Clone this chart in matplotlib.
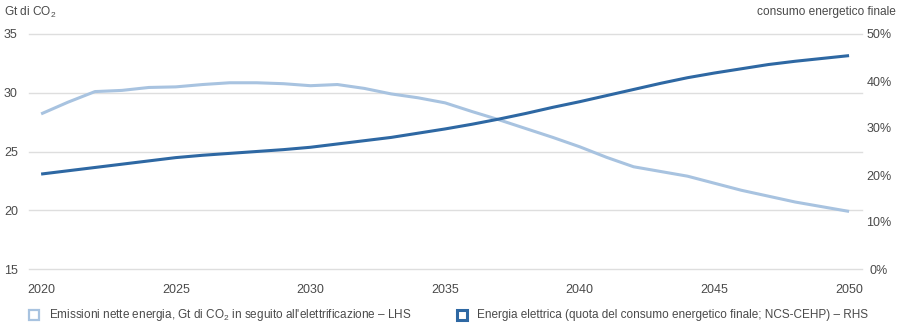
import matplotlib
matplotlib.use("Agg")
import matplotlib.pyplot as plt
from matplotlib.patches import Rectangle

plt.rcParams['font.family'] = ['Liberation Sans', 'DejaVu Sans']
plt.rcParams['mathtext.fontset'] = 'custom'
plt.rcParams['mathtext.rm'] = 'Liberation Sans'
plt.rcParams['mathtext.it'] = 'Liberation Sans:italic'
plt.rcParams['mathtext.bf'] = 'Liberation Sans:bold'

years = list(range(2020, 2051))
emissions = [28.2, 29.2, 30.1, 30.2, 30.45, 30.5, 30.7, 30.85, 30.85, 30.77, 30.6,
             30.7, 30.37, 29.9, 29.57, 29.14, 28.4, 27.7, 26.95, 26.2, 25.4,
             24.5, 23.7, 23.3, 22.9, 22.3, 21.7, 21.2, 20.7, 20.3, 19.9]
electric_share = [20.2, 20.9, 21.6, 22.3, 23.0, 23.7, 24.2, 24.6, 25.0, 25.4, 25.9,
                  26.6, 27.3, 28.0, 28.9, 29.8, 30.8, 31.9, 33.1, 34.4, 35.6,
                  36.9, 38.2, 39.5, 40.7, 41.7, 42.6, 43.5, 44.2, 44.8, 45.4]
x_ticks = [2020, 2025, 2030, 2035, 2040, 2045, 2050]
left_ticks = [15, 20, 25, 30, 35]
right_ticks = [0, 10, 20, 30, 40, 50]

label_left = "Gt di CO$_2$"
label_right = "consumo energetico finale"
legend_1 = "Emissioni nette energia, Gt di CO$_2$ in seguito all'elettrificazione – LHS"
legend_2 = "Energia elettrica (quota del consumo energetico finale; NCS-CEHP) – RHS"

light = '#a8c3e0'
dark = '#2e68a3'
txt = '#4a4a4a'
grid = '#dedede'

W, H = 900, 328
PX = 72 / 100  # points per pixel
fig = plt.figure(figsize=(W / 100, H / 100), dpi=100)
ax_l, ax_r, ax_t, ax_b = 29, 862, 34, 269
ax = fig.add_axes([ax_l / W, 1 - ax_b / H, (ax_r - ax_l) / W, (ax_b - ax_t) / H])
ax2 = ax.twinx()

ax.set_xlim(2019.55, 2050.48)
ax.set_ylim(15, 35)
ax2.set_ylim(0, 50)

for y in left_ticks:
    ax.axhline(y, color=grid, lw=1.0, zorder=0, clip_on=False)

ax.plot(years, emissions, color=light, lw=2.2, solid_capstyle='butt', zorder=3)
ax2.plot(years, electric_share, color=dark, lw=2.2, solid_capstyle='butt', zorder=3)

for a in (ax, ax2):
    for s in a.spines.values():
        s.set_visible(False)
    a.tick_params(length=0, colors=txt, labelsize=9)

ax.set_xticks(x_ticks)
ax.set_xticklabels([str(v) for v in x_ticks])
ax.tick_params(axis='x', pad=11)
ax.set_yticks(left_ticks)
ax.set_yticklabels([str(v) for v in left_ticks], ha='left')
ax.tick_params(axis='y', pad=(ax_l - 4) * PX)
ax2.set_yticks(right_ticks)
ax2.set_yticklabels([f"{v}%" for v in right_ticks], ha='center')
ax2.tick_params(axis='y', pad=(879 - ax_r) * PX)

fig.text(4 / W, 1 - 12 / H, label_left, ha='left', va='center', fontsize=8.6, color=txt)
fig.text(896 / W, 1 - 12 / H, label_right, ha='right', va='center', fontsize=8.6, color=txt)

# legend
for (sx, col, lw, label) in [(29, light, 1.6, legend_1), (457, dark, 2.2, legend_2)]:
    fig.add_artist(Rectangle((sx / W, 1 - 320 / H), 10 / W, 10 / H, transform=fig.transFigure,
                             facecolor='white', edgecolor=col, lw=lw))
    fig.text((sx + 20) / W, 1 - 315 / H, label, ha='left', va='center', fontsize=8.5, color=txt)

fig.savefig('out.png', dpi=100, facecolor='white')
